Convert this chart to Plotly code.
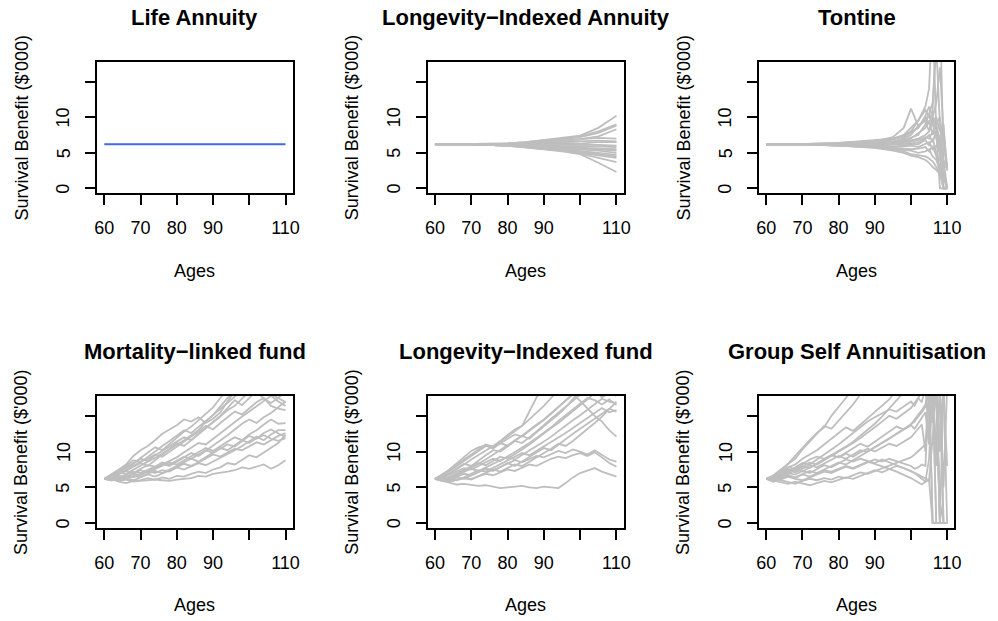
import plotly.graph_objects as go

# ---------------------------------------------------------------
# Simulated survival benefit paths ($'000) by age, per product
# ---------------------------------------------------------------

LIFE_ANNUITY_AGES = [60, 110]
LIFE_ANNUITY_BENEFIT = [[6.2, 6.2]]

LIA_AGES = [60, 70, 80, 85, 90, 95, 100, 105, 110]
LIA_PATHS = [
    [6.2, 6.2, 6.3, 6.5, 6.8, 7.1, 7.4, 8.5, 10.2],
    [6.2, 6.2, 6.3, 6.5, 6.7, 7.0, 7.3, 8.0, 9.0],
    [6.2, 6.2, 6.2, 6.4, 6.6, 6.9, 7.2, 7.8, 8.8],
    [6.2, 6.2, 6.3, 6.4, 6.6, 6.8, 6.9, 7.3, 8.3],
    [6.2, 6.2, 6.2, 6.3, 6.5, 6.7, 7.0, 7.1, 7.0],
    [6.2, 6.2, 6.2, 6.3, 6.4, 6.5, 6.6, 6.7, 6.6],
    [6.2, 6.2, 6.2, 6.2, 6.3, 6.4, 6.3, 6.5, 6.5],
    [6.2, 6.2, 6.1, 6.1, 6.1, 6.2, 6.2, 6.1, 6.0],
    [6.2, 6.2, 6.1, 6.0, 6.0, 5.9, 5.9, 5.9, 5.8],
    [6.2, 6.2, 6.1, 6.0, 5.9, 5.9, 5.8, 5.6, 5.5],
    [6.2, 6.2, 6.0, 6.0, 5.9, 5.8, 5.6, 5.5, 5.3],
    [6.2, 6.2, 6.0, 5.9, 5.8, 5.6, 5.5, 5.3, 5.0],
    [6.2, 6.2, 6.0, 5.9, 5.7, 5.5, 5.3, 5.0, 4.7],
    [6.2, 6.2, 6.0, 5.9, 5.7, 5.4, 5.1, 4.8, 4.5],
    [6.2, 6.2, 6.0, 5.8, 5.6, 5.3, 5.0, 4.6, 4.3],
    [6.2, 6.2, 6.0, 5.8, 5.6, 5.3, 4.9, 4.3, 3.7],
    [6.2, 6.2, 6.0, 5.8, 5.5, 5.2, 4.8, 3.6, 2.3],
]

TONTINE_AGES = [60, 70, 80, 90, 95, 98, 100, 102, 104, 105, 106, 107, 108, 109, 110]
TONTINE_PATHS = [
    [6.2, 6.2, 6.4, 6.6, 7.2, 8.5, 11.2, 8.8, 9.5, 10.5, 12.0, 20.0, 9.0, 3.0, 0.0],
    [6.2, 6.2, 6.4, 6.8, 7.0, 7.5, 8.0, 9.5, 11.5, 14.0, 25.0, 8.0, 0.0, 0.0, 0.0],
    [6.2, 6.2, 6.3, 6.5, 6.9, 7.2, 7.8, 8.5, 10.0, 9.0, 11.0, 22.0, 26.0, 4.0, 0.0],
    [6.2, 6.2, 6.3, 6.4, 6.6, 7.0, 7.5, 8.8, 9.5, 8.0, 10.0, 12.0, 17.0, 8.0, 3.0],
    [6.2, 6.2, 6.3, 6.4, 6.5, 6.8, 7.2, 7.5, 9.0, 10.5, 9.0, 7.0, 5.0, 0.0, 0.0],
    [6.2, 6.2, 6.3, 6.3, 6.4, 6.6, 7.0, 7.8, 8.5, 9.5, 7.5, 9.0, 10.0, 6.0, 3.0],
    [6.2, 6.2, 6.2, 6.2, 6.3, 6.5, 6.8, 7.0, 7.5, 8.0, 9.5, 10.0, 8.0, 9.0, 2.5],
    [6.2, 6.2, 6.2, 6.1, 6.2, 6.3, 6.5, 6.8, 7.2, 7.0, 8.0, 9.0, 6.0, 0.0, 0.0],
    [6.2, 6.2, 6.1, 6.0, 6.1, 6.2, 6.3, 6.5, 7.0, 7.5, 6.5, 8.0, 7.0, 3.0, 3.0],
    [6.2, 6.2, 6.1, 6.0, 5.9, 6.0, 6.2, 6.2, 6.8, 6.0, 7.0, 5.0, 4.0, 2.0, 0.0],
    [6.2, 6.2, 6.1, 5.9, 5.8, 5.9, 6.0, 5.8, 6.2, 6.5, 5.5, 6.0, 5.0, 0.0, 0.0],
    [6.2, 6.2, 6.0, 5.9, 5.7, 5.6, 5.5, 5.6, 5.8, 5.2, 6.0, 4.5, 3.0, 2.0, 0.0],
    [6.2, 6.2, 6.0, 5.8, 5.6, 5.4, 5.3, 5.0, 5.2, 5.5, 4.5, 4.0, 2.5, 0.0, 0.0],
    [6.2, 6.2, 6.0, 5.8, 5.5, 5.2, 4.8, 4.6, 4.5, 4.2, 3.8, 3.0, 2.2, 1.5, 0.0],
    [6.2, 6.2, 6.0, 5.7, 5.3, 5.0, 4.6, 4.4, 4.0, 3.6, 3.0, 2.6, 2.0, 0.0, 0.0],
    [6.2, 6.2, 6.3, 6.5, 6.8, 7.5, 8.5, 9.5, 11.0, 10.0, 9.5, 8.5, 7.0, 0.0, 0.0],
    [6.2, 6.2, 6.3, 6.6, 7.0, 7.4, 8.0, 8.5, 10.2, 11.5, 10.0, 9.0, 5.0, 4.0, 3.0],
]

FUND_AGES = list(range(60, 111, 2))
MLF_PATHS = [
    [6.2, 6.0, 5.9, 6.1, 5.8, 5.9, 6.0, 6.1, 6.0, 5.9, 6.1, 6.2, 6.3, 6.6, 6.5, 6.9, 7.0, 7.2, 7.4, 7.8, 7.6, 7.9, 8.2, 7.6, 8.1, 8.8],
    [6.2, 6.3, 5.8, 5.6, 5.9, 6.0, 6.3, 6.1, 6.4, 6.2, 6.6, 6.5, 6.9, 7.2, 7.0, 7.5, 7.8, 8.4, 8.2, 8.9, 9.5, 9.2, 9.9, 10.5, 11.2, 12.4],
    [6.2, 6.5, 6.9, 7.3, 7.0, 7.6, 8.1, 7.9, 8.5, 8.2, 8.8, 9.3, 9.0, 9.6, 10.2, 9.8, 10.4, 11.0, 10.7, 11.5, 12.2, 11.8, 12.6, 13.1, 12.5, 12.0],
    [6.2, 6.8, 7.5, 8.2, 9.4, 10.2, 10.8, 11.6, 12.5, 13.1, 13.7, 14.5, 14.2, 14.8, 14.0, 14.6, 15.5, 17.0, 18.5, 19.0, 19.0, 19.0, 19.0, 19.0, 19.0, 19.0],
    [6.2, 6.6, 7.2, 7.8, 8.5, 9.0, 8.7, 9.5, 10.1, 10.8, 11.4, 12.0, 11.6, 12.5, 13.3, 14.2, 15.0, 16.1, 17.2, 16.5, 17.5, 18.5, 17.4, 16.8, 17.5, 16.9],
    [6.2, 6.4, 6.8, 7.4, 7.9, 8.6, 9.0, 9.6, 9.3, 10.0, 10.6, 11.3, 12.1, 12.8, 13.6, 13.1, 14.0, 14.8, 15.6, 15.2, 16.1, 16.9, 17.5, 16.4, 16.0, 15.8],
    [6.2, 6.1, 6.4, 6.8, 7.2, 7.0, 7.5, 7.9, 8.3, 8.0, 8.6, 9.2, 9.8, 9.4, 10.1, 10.9, 11.5, 12.3, 13.1, 13.9, 14.5, 14.0, 14.8, 15.4, 16.2, 17.0],
    [6.2, 6.3, 6.6, 6.5, 6.9, 7.4, 7.1, 7.6, 8.0, 8.5, 8.2, 8.8, 9.3, 9.9, 10.5, 10.1, 10.8, 11.4, 12.0, 11.6, 12.4, 13.0, 13.8, 14.5, 13.9, 14.0],
    [6.2, 6.0, 6.2, 6.6, 6.4, 6.8, 7.3, 7.0, 7.4, 7.2, 7.8, 7.5, 8.0, 8.4, 8.1, 8.6, 9.1, 9.6, 10.2, 10.8, 11.5, 12.1, 11.6, 12.4, 13.0, 13.0],
    [6.2, 6.5, 7.0, 7.6, 8.3, 9.1, 9.8, 10.6, 10.2, 11.1, 11.9, 12.8, 13.5, 14.4, 15.3, 16.2, 17.5, 18.6, 19.0, 19.0, 19.0, 19.0, 19.0, 19.0, 19.0, 19.0],
    [6.2, 6.4, 7.0, 7.3, 7.9, 8.4, 8.0, 8.8, 9.5, 10.3, 11.2, 10.8, 11.6, 12.5, 13.2, 14.0, 14.9, 15.8, 16.4, 17.4, 18.4, 19.0, 18.8, 18.0, 17.5, 18.5],
    [6.2, 6.1, 6.3, 6.2, 6.6, 6.4, 6.9, 7.3, 7.0, 7.5, 7.9, 8.4, 9.0, 8.6, 9.2, 9.8, 10.5, 10.2, 10.9, 11.6, 11.2, 11.9, 12.3, 11.8, 11.5, 11.9],
    [6.2, 6.6, 7.1, 6.9, 7.5, 8.0, 8.6, 9.1, 9.7, 10.4, 11.0, 11.6, 12.3, 13.0, 14.2, 15.1, 16.3, 17.5, 18.2, 19.0, 19.0, 19.0, 19.0, 19.0, 19.0, 19.0],
    [6.2, 6.3, 6.1, 6.5, 6.9, 6.7, 7.2, 7.6, 8.1, 8.7, 9.2, 9.9, 10.5, 11.2, 11.0, 11.8, 12.5, 13.4, 14.1, 14.9, 15.6, 16.3, 17.1, 17.8, 17.0, 16.4],
    [6.2, 6.0, 6.1, 6.3, 6.0, 6.4, 6.8, 6.5, 6.9, 7.4, 7.8, 8.3, 8.0, 8.5, 9.0, 9.6, 9.3, 9.9, 10.4, 10.2, 10.8, 11.3, 11.0, 11.6, 12.2, 12.6],
    [6.2, 6.7, 7.3, 8.0, 8.8, 8.5, 9.3, 10.1, 10.8, 11.5, 12.3, 13.0, 12.6, 13.5, 14.3, 15.1, 16.0, 16.9, 17.7, 18.5, 19.0, 19.0, 19.0, 19.0, 19.0, 19.0],
]

LIF_PATHS = [
    [6.2, 5.9, 5.6, 5.4, 5.5, 5.3, 5.2, 5.3, 5.1, 4.9, 5.0, 5.1, 5.2, 5.0, 4.9, 5.1, 5.0, 4.9, 5.6, 6.4, 7.0, 7.4, 7.7, 7.2, 6.8, 6.5],
    [6.2, 6.0, 5.8, 6.1, 6.3, 6.2, 6.6, 6.9, 6.7, 7.1, 7.5, 7.3, 7.8, 8.2, 8.0, 8.5, 9.0, 9.3, 9.1, 9.5, 9.8, 9.4, 9.9, 9.2, 8.4, 7.9],
    [6.2, 6.4, 6.1, 6.5, 6.9, 6.7, 7.2, 7.6, 7.4, 7.9, 8.3, 8.8, 8.5, 9.0, 9.4, 9.2, 9.7, 10.1, 9.8, 10.3, 10.0, 9.6, 10.2, 9.5, 8.9, 8.6],
    [6.2, 6.8, 7.4, 8.1, 8.9, 9.6, 10.3, 11.0, 10.7, 11.5, 12.3, 13.1, 13.6, 15.5, 17.6, 19.0, 19.0, 19.0, 19.0, 19.0, 19.0, 19.0, 19.0, 19.0, 19.0, 19.0],
    [6.2, 6.5, 7.0, 7.6, 8.3, 8.0, 8.8, 9.5, 10.2, 10.0, 10.7, 11.5, 12.3, 13.0, 13.8, 14.5, 15.4, 16.3, 17.2, 18.0, 17.1, 16.0, 15.0, 14.2, 13.0, 12.1],
    [6.2, 6.6, 7.3, 8.0, 8.7, 9.5, 10.2, 10.8, 10.5, 11.2, 11.8, 12.4, 12.1, 12.9, 13.6, 14.4, 15.3, 16.2, 17.0, 17.9, 19.0, 19.0, 18.5, 17.6, 18.2, 17.8],
    [6.2, 6.3, 6.8, 7.2, 7.7, 7.5, 8.0, 8.5, 9.0, 8.7, 9.3, 9.9, 10.5, 11.2, 11.9, 12.6, 13.4, 14.3, 15.1, 15.9, 16.7, 17.5, 17.2, 16.6, 17.3, 16.5],
    [6.2, 6.1, 6.5, 7.0, 7.4, 7.9, 8.4, 8.1, 8.7, 9.3, 9.0, 9.6, 10.3, 11.0, 11.8, 12.5, 13.3, 14.0, 14.8, 15.7, 16.5, 17.3, 18.2, 19.0, 19.0, 19.0],
    [6.2, 6.4, 6.9, 7.5, 8.2, 8.9, 9.5, 10.1, 10.8, 11.4, 12.1, 12.8, 13.6, 14.5, 15.4, 16.4, 17.5, 18.6, 19.0, 19.0, 19.0, 19.0, 19.0, 19.0, 19.0, 19.0],
    [6.2, 6.0, 6.3, 6.7, 7.1, 7.6, 7.3, 7.8, 8.3, 8.8, 9.3, 8.9, 9.5, 10.1, 10.7, 11.4, 12.1, 12.9, 13.6, 14.4, 15.1, 15.9, 16.6, 17.4, 17.0, 16.8],
    [6.2, 6.5, 6.2, 6.7, 7.2, 7.8, 8.3, 8.9, 9.6, 10.2, 10.9, 11.5, 11.2, 12.0, 12.8, 13.7, 14.6, 15.5, 16.3, 17.1, 17.9, 18.8, 19.0, 19.0, 19.0, 19.0],
    [6.2, 5.9, 6.2, 6.0, 6.4, 6.9, 7.4, 7.2, 7.7, 8.2, 8.7, 9.2, 9.8, 9.5, 10.1, 10.7, 11.3, 12.0, 12.6, 13.3, 14.0, 14.7, 15.3, 16.1, 15.5, 15.8],
    [6.2, 6.7, 7.5, 8.4, 9.3, 10.1, 10.6, 10.9, 10.4, 11.2, 10.8, 11.6, 12.2, 11.8, 12.7, 13.5, 14.3, 15.2, 16.2, 17.3, 18.5, 19.0, 19.0, 19.0, 19.0, 19.0],
    [6.2, 6.3, 6.0, 6.4, 6.2, 6.7, 7.1, 7.6, 7.3, 7.9, 8.4, 8.0, 8.6, 9.2, 9.9, 10.5, 10.2, 11.0, 11.7, 12.5, 13.2, 13.9, 14.6, 15.4, 16.0, 15.6],
    [6.2, 6.1, 5.8, 6.0, 6.3, 6.1, 6.6, 7.0, 7.5, 7.2, 7.7, 8.2, 8.0, 8.6, 9.1, 9.7, 10.4, 11.1, 10.8, 11.5, 12.3, 13.1, 14.0, 14.9, 15.9, 17.0],
]

GSA_AGES = list(range(60, 101, 2)) + list(range(101, 111))
GSA_PATHS = [
    [6.2, 6.5, 7.2, 8.3, 9.4, 10.6, 11.6, 12.6, 13.4, 15.0, 16.2, 17.5, 19.0, 19.0, 19.0, 19.0, 19.0, 19.0, 19.0, 19.0, 19.0,
     19.0, 19.0, 19.0, 19.0, 19.0, 19.0, 19.0, 0.0, 0.0, 0.0],
    [6.2, 6.7, 7.5, 8.2, 9.0, 10.3, 11.4, 12.5, 13.6, 13.2, 14.3, 15.4, 16.6, 18.0, 19.0, 19.0, 19.0, 19.0, 19.0, 19.0, 19.0,
     19.0, 19.0, 19.0, 19.0, 19.0, 19.0, 0.0, 0.0, 0.0, 0.0],
    [6.2, 6.4, 7.0, 7.8, 8.2, 9.0, 9.6, 10.2, 11.0, 11.8, 12.5, 13.4, 12.9, 13.8, 14.6, 15.5, 16.4, 17.3, 18.6, 19.0, 19.0,
     19.0, 19.0, 19.0, 19.0, 19.0, 0.0, 0.0, 0.0, 0.0, 0.0],
    [6.2, 6.1, 6.6, 7.2, 7.9, 8.4, 8.2, 8.9, 9.5, 10.2, 11.0, 11.8, 12.6, 13.4, 14.2, 14.8, 15.3, 15.9, 15.6, 16.3, 17.0,
     16.4, 17.5, 18.5, 19.0, 12.0, 19.0, 8.0, 19.0, 0.0, 0.0],
    [6.2, 6.5, 7.0, 7.5, 7.3, 7.9, 8.5, 8.2, 8.8, 9.4, 9.9, 10.5, 11.2, 11.9, 12.6, 13.4, 14.2, 15.0, 14.6, 15.4, 16.1,
     16.8, 17.5, 16.9, 19.0, 19.0, 14.0, 19.0, 12.0, 19.0, 0.0],
    [6.2, 6.0, 6.4, 6.9, 7.5, 7.2, 7.8, 8.4, 8.9, 9.5, 9.2, 9.8, 10.4, 11.1, 10.7, 11.4, 12.1, 12.8, 13.5, 13.1, 13.8,
     14.2, 14.9, 15.5, 16.3, 19.0, 19.0, 10.0, 19.0, 5.0, 19.0],
    [6.2, 6.3, 6.8, 7.4, 7.1, 7.6, 8.1, 7.8, 8.3, 8.9, 9.4, 9.0, 9.6, 10.2, 10.0, 10.6, 11.2, 11.8, 12.4, 13.1, 13.7,
     13.2, 14.0, 14.7, 15.5, 11.0, 18.0, 19.0, 0.0, 0.0, 0.0],
    [6.2, 6.5, 7.2, 7.8, 7.6, 8.3, 8.9, 9.3, 9.0, 9.5, 9.2, 9.7, 9.3, 9.9, 10.4, 10.0, 10.6, 11.1, 10.8, 11.4, 12.0,
     12.6, 13.2, 13.8, 10.0, 17.0, 19.0, 0.0, 0.0, 0.0, 0.0],
    [6.2, 6.0, 6.5, 7.0, 6.8, 7.3, 7.0, 7.6, 8.1, 7.8, 8.4, 8.9, 8.6, 9.0, 8.7, 8.4, 8.9, 8.5, 8.2, 7.8, 7.3,
     7.0, 6.6, 6.3, 5.8, 6.0, 0.0, 0.0, 0.0, 0.0, 0.0],
    [6.2, 5.8, 6.2, 6.6, 6.3, 6.8, 6.5, 7.0, 7.4, 7.2, 7.6, 8.0, 7.7, 8.2, 8.6, 8.3, 8.0, 7.6, 7.2, 6.8, 6.3,
     6.0, 5.7, 5.4, 5.8, 9.0, 19.0, 19.0, 0.0, 0.0, 0.0],
    [6.2, 6.4, 6.1, 6.5, 6.2, 6.0, 6.4, 6.8, 7.2, 7.0, 7.5, 7.9, 7.6, 8.1, 8.5, 8.9, 8.6, 9.0, 8.7, 8.3, 8.0,
     7.6, 7.8, 8.2, 8.0, 19.0, 0.0, 0.0, 0.0, 0.0, 0.0],
    [6.2, 6.0, 5.7, 5.5, 5.8, 5.6, 5.3, 5.6, 5.9, 5.7, 6.1, 6.4, 6.2, 6.6, 7.0, 7.4, 7.1, 7.6, 8.0, 7.7, 7.3,
     7.0, 6.8, 6.5, 6.3, 6.0, 12.0, 19.0, 0.0, 19.0, 19.0],
    [6.2, 6.3, 6.0, 5.8, 5.5, 5.9, 6.2, 6.0, 6.3, 6.1, 6.5, 6.3, 6.7, 7.1, 6.9, 7.3, 7.7, 8.1, 8.4, 8.8, 9.2,
     9.6, 10.1, 10.6, 11.0, 19.0, 19.0, 19.0, 3.0, 0.0, 0.0],
    [6.2, 6.1, 6.4, 6.7, 6.4, 6.9, 7.3, 7.0, 7.5, 8.0, 8.5, 8.2, 8.8, 9.3, 9.9, 10.5, 11.2, 11.8, 12.5, 13.1, 13.8,
     14.5, 15.1, 15.8, 16.6, 19.0, 15.0, 19.0, 10.0, 19.0, 8.0],
    [6.2, 6.6, 6.3, 6.9, 7.4, 8.0, 7.7, 8.3, 8.8, 9.4, 10.0, 10.7, 11.4, 12.2, 13.0, 13.9, 14.9, 16.0, 17.1, 18.3, 19.0,
     19.0, 19.0, 19.0, 19.0, 19.0, 19.0, 19.0, 19.0, 0.0, 0.0],
]

PANEL_TITLES = ["Life Annuity", "Longevity\u2212Indexed Annuity", "Tontine",
                "Mortality\u2212linked fund", "Longevity\u2212Indexed fund",
                "Group Self Annuitisation"]
X_TICKS = [60, 70, 80, 90, 100, 110]
X_TICK_TEXT = ["60", "70", "80", "90", "", "110"]
Y_TICKS = [0, 5, 10, 15]
Y_TICK_TEXT = ["0", "5", "10", ""]
X_LABEL = "Ages"
Y_LABEL = "Survival Benefit ($'000)"

GREY = "#bebebe"
BLUE = "#4169e1"

panels = [
    (LIFE_ANNUITY_AGES, LIFE_ANNUITY_BENEFIT, BLUE),
    (LIA_AGES, LIA_PATHS, GREY),
    (TONTINE_AGES, TONTINE_PATHS, GREY),
    (FUND_AGES, MLF_PATHS, GREY),
    (FUND_AGES, LIF_PATHS, GREY),
    (GSA_AGES, GSA_PATHS, GREY),
]

# ---------------------------------------------------------------
# Layout geometry (pixels in a 998 x 621 canvas)
# ---------------------------------------------------------------
W, H = 998, 621
COLS = [(95.0, 292.7), (429.0, 627.0), (763.7, 961.0)]
ROWS = [(61.7, 193.3), (396.0, 528.0)]
FONT = "Liberation Sans, Arial, Helvetica, sans-serif"
TEXT_SIZE = 18
TITLE_SIZE = 22
TEXT_FONT = dict(family=FONT, size=TEXT_SIZE, color="black")

fig = go.Figure()
annotations = []
layout_axes = {}

for idx, (ages, paths, colour) in enumerate(panels):
    n = idx + 1
    r, c = divmod(idx, 3)
    x0, x1 = COLS[c]
    y0, y1 = ROWS[r]
    xname = "x" if n == 1 else f"x{n}"
    yname = "y" if n == 1 else f"y{n}"

    for p in paths:
        fig.add_trace(go.Scatter(
            x=ages, y=p, mode="lines",
            line=dict(color=colour, width=1.8),
            xaxis=xname, yaxis=yname,
            showlegend=False, hoverinfo="skip",
        ))

    axis_common = dict(
        showline=True, mirror=True, linecolor="black", linewidth=2,
        ticks="outside", ticklen=10, tickwidth=1.5, tickcolor="black",
        showgrid=False, zeroline=False, tickfont=TEXT_FONT,
    )
    layout_axes["xaxis" if n == 1 else f"xaxis{n}"] = dict(
        axis_common,
        domain=[x0 / W, x1 / W], anchor=yname,
        range=[58, 112], tickmode="array",
        tickvals=X_TICKS, ticktext=X_TICK_TEXT,
        ticklabelstandoff=7,
    )
    layout_axes["yaxis" if n == 1 else f"yaxis{n}"] = dict(
        axis_common,
        domain=[1 - y1 / H, 1 - y0 / H], anchor=xname,
        range=[-0.68, 17.78], tickmode="array",
        tickvals=Y_TICKS, showticklabels=False,
    )

    # y tick labels, written parallel to the axis
    for v, t in zip(Y_TICKS, Y_TICK_TEXT):
        if t:
            annotations.append(dict(
                text=t, x=(x0 - 34) / W, y=v, xref="paper", yref=yname,
                xanchor="center", yanchor="middle", textangle=-90,
                showarrow=False, font=TEXT_FONT,
            ))

    cx = (x0 + x1) / 2
    annotations.append(dict(
        text=f"<b>{PANEL_TITLES[idx]}</b>", x=cx / W, y=1 - (y0 - 44.5) / H,
        xref="paper", yref="paper", xanchor="center", yanchor="middle",
        showarrow=False, font=dict(family=FONT, size=TITLE_SIZE, color="black"),
    ))
    annotations.append(dict(
        text=X_LABEL, x=cx / W, y=1 - (y1 + 77.4) / H,
        xref="paper", yref="paper", xanchor="center", yanchor="middle",
        showarrow=False, font=TEXT_FONT,
    ))
    annotations.append(dict(
        text=Y_LABEL, x=(x0 - 76.7) / W, y=1 - ((y0 + y1) / 2) / H,
        xref="paper", yref="paper", xanchor="center", yanchor="middle",
        textangle=-90, showarrow=False, font=TEXT_FONT,
    ))

fig.update_layout(
    width=W, height=H,
    margin=dict(l=0, r=0, t=0, b=0),
    paper_bgcolor="white", plot_bgcolor="white",
    annotations=annotations,
    **layout_axes,
)

fig.write_html("out.html")
